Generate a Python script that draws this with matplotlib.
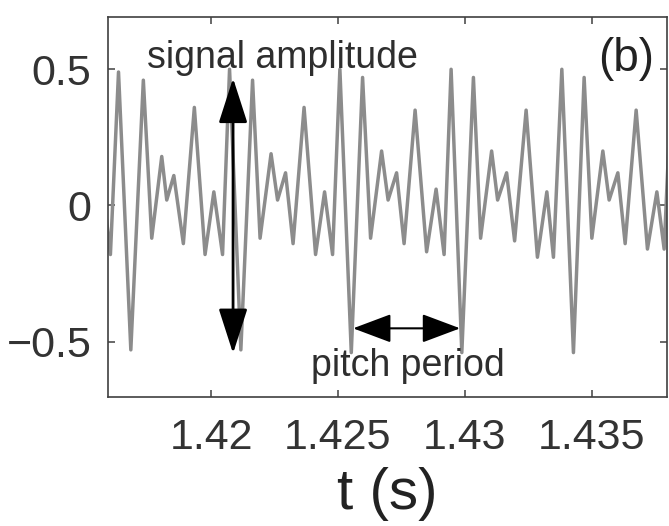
import matplotlib
matplotlib.use("Agg")
import matplotlib.pyplot as plt

plt.rcParams['font.family'] = ['Liberation Sans', 'DejaVu Sans']

# extrema of the voiced speech segment (time in s, amplitude)
t_pts = [
    1.415757, 1.416036, 1.416355, 1.416840,
    1.417333, 1.417664, 1.418058, 1.418255, 1.418534, 1.418909,
    1.419342, 1.419764, 1.420110, 1.420453, 1.420729, 1.421174,
    1.421635, 1.421931, 1.422364, 1.422620, 1.422935, 1.423231,
    1.423664, 1.424117, 1.424472, 1.424787, 1.425075, 1.425524,
    1.425969, 1.426284, 1.426718, 1.426974, 1.427309, 1.427604,
    1.428038, 1.428491, 1.428865, 1.429180, 1.429456, 1.429878,
    1.430335, 1.430618, 1.431052, 1.431288, 1.431643, 1.431958,
    1.432411, 1.432856, 1.433227, 1.433487, 1.433818, 1.434275,
    1.434696, 1.435000, 1.435433, 1.435681, 1.436024, 1.436312,
    1.436745, 1.437190, 1.437561, 1.437848, 1.438163,
]
y_pts = [
    0.05, -0.18, 0.49, -0.53,
    0.46, -0.12, 0.18, 0.02, 0.11, -0.14,
    0.36, -0.18, 0.05, -0.18, 0.50, -0.53,
    0.46, -0.12, 0.19, 0.02, 0.12, -0.14,
    0.36, -0.18, 0.05, -0.18, 0.50, -0.54,
    0.47, -0.12, 0.20, 0.02, 0.12, -0.14,
    0.35, -0.17, 0.06, -0.18, 0.50, -0.54,
    0.47, -0.12, 0.20, 0.02, 0.12, -0.13,
    0.35, -0.19, 0.05, -0.19, 0.50, -0.54,
    0.47, -0.12, 0.20, 0.02, 0.12, -0.14,
    0.35, -0.16, 0.05, -0.16, 0.50,
]

x_ticks = [1.42, 1.425, 1.43, 1.435]
x_tick_labels = ['1.42', '1.425', '1.43', '1.435']
y_ticks = [-0.5, 0, 0.5]
y_tick_labels = ['\u22120.5', '0', '0.5']

# annotation anchors
amp_t = 1.420867
amp_top, amp_bottom = 0.467, -0.543
pitch_t0, pitch_t1 = 1.425595, 1.429811
pitch_y = -0.451

fig = plt.figure(figsize=(6.69, 5.26), dpi=100)
ax = fig.add_axes([0.1614, 0.2458, 0.8356, 0.7219])

ax.plot(t_pts, y_pts, color='#8c8c8c', lw=2.5, solid_joinstyle='round')

ax.set_xlim(1.41594, 1.43796)
ax.set_ylim(-0.702, 0.692)

ax.set_xticks(x_ticks)
ax.set_xticklabels(x_tick_labels)
ax.set_yticks(y_ticks)
ax.set_yticklabels(y_tick_labels)
ax.tick_params(direction='in', length=5, width=1.1, colors='#404040',
               labelcolor='#333333', labelsize=31, top=True, right=True)
ax.tick_params(axis='x', pad=15)
ax.tick_params(axis='y', pad=12)
for s in ax.spines.values():
    s.set_color('#404040')
    s.set_linewidth(1.2)

ax.set_xlabel('t (s)', fontsize=42, color='#222222', labelpad=7)

# signal amplitude double arrow
ax.annotate('', xy=(amp_t, amp_top), xytext=(amp_t, amp_bottom),
            arrowprops=dict(arrowstyle='<|-|>,head_length=2.8,head_width=0.9',
                            mutation_scale=10, lw=2.0, color='black',
                            shrinkA=0, shrinkB=0))
ax.text(1.417467, 0.505, 'signal amplitude', fontsize=27, color='#2e2e2e',
        ha='left', va='baseline')

# pitch period double arrow
ax.annotate('', xy=(pitch_t1, pitch_y), xytext=(pitch_t0, pitch_y),
            arrowprops=dict(arrowstyle='<|-|>,head_length=2.4,head_width=0.9',
                            mutation_scale=10, lw=1.5, color='black',
                            shrinkA=0, shrinkB=0))
ax.text(1.427762, -0.626, 'pitch period', fontsize=27, color='#2e2e2e',
        ha='center', va='baseline')

ax.text(1.436351, 0.538, '(b)', fontsize=33, color='#222222',
        ha='center', va='center')

fig.savefig('out.png', dpi=100)
